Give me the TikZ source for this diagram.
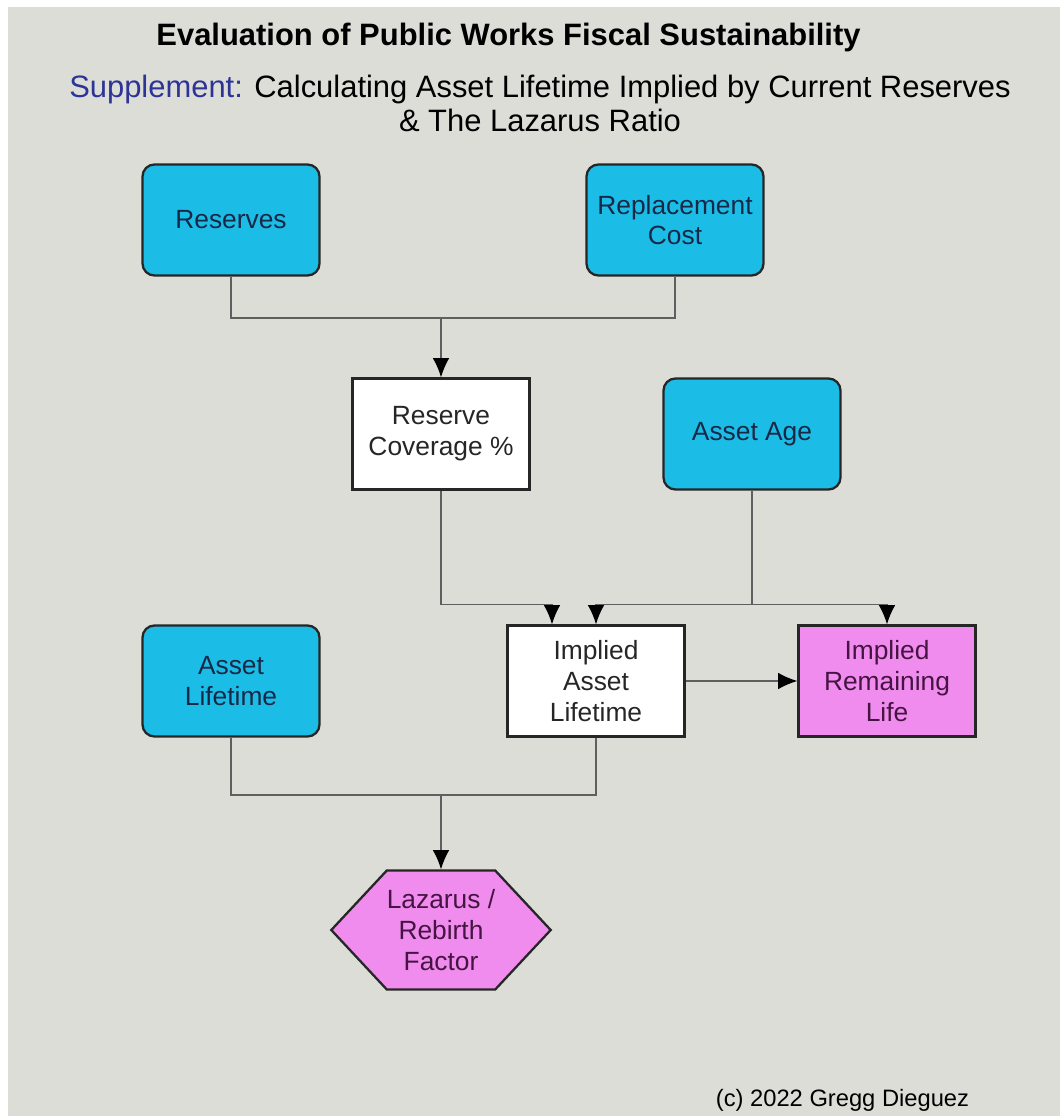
\documentclass[tikz,border=0pt]{standalone}
\usepackage{fontspec}
\setmainfont{Liberation Sans}
\usetikzlibrary{arrows.meta, shapes.symbols}
\definecolor{panel}{RGB}{221,221,216}
\definecolor{skyfill}{RGB}{27,189,231}
\definecolor{skytext}{RGB}{24,40,70}
\definecolor{orchid}{RGB}{240,140,238}
\definecolor{orchidtext}{RGB}{70,20,66}
\definecolor{suppblue}{RGB}{46,52,150}
\definecolor{wire}{RGB}{95,95,95}
\tikzset{>={Latex[length=11pt,width=9.5pt,color=black]}}
\tikzset{
  box/.style={draw=black!85, line width=1.3pt, minimum width=3.54cm, minimum height=2.22cm,
    align=center, font=\fontsize{15}{17.5}\selectfont, inner sep=2pt},
  cyanbox/.style={box, fill=skyfill, rounded corners=0.24cm, text=skytext},
  whitebox/.style={box, fill=white, text=black!85},
  pinkbox/.style={box, fill=orchid, text=orchidtext},
  hexbox/.style={draw=black!85, line width=1.3pt, fill=orchid, text=orchidtext, shape=signal,
    signal to=east and west, signal pointer angle=94, minimum width=4.38cm, minimum height=2.38cm,
    align=center, font=\fontsize{15}{17.5}\selectfont, inner sep=0pt},
  link/.style={wire, line width=0.8pt},
  flow/.style={link, ->}
}

\begin{document}
\begin{tikzpicture}
\useasboundingbox (0,0) rectangle (21.2,-22.32);
\fill[white] (0,0) rectangle (21.2,-22.32);
\fill[panel] (0.16,-0.14) rectangle (21.2,-22.32);

% headings
\node (title) at (10.17,-0.76) {\fontsize{17.6}{20}\selectfont\bfseries Evaluation of Public Works Fiscal Sustainability};
\node[align=center, font=\fontsize{17.6}{19.5}\selectfont] (sub) at (10.8,-2.07)
  {\textcolor{suppblue}{Supplement:} Calculating Asset Lifetime Implied by Current Reserves\\\& The Lazarus Ratio};

% boxes
\node[cyanbox] (res) at (4.62,-4.40) {Reserves};
\node[cyanbox] (rep) at (13.50,-4.40) {Replacement\\Cost};
\node[whitebox] (cov) at (8.82,-8.68) {Reserve\\Coverage \%};
\node[cyanbox] (age) at (15.04,-8.68) {Asset Age};
\node[cyanbox] (alt) at (4.62,-13.62) {Asset\\Lifetime};
\node[whitebox] (ila) at (11.92,-13.62) {Implied\\Asset\\Lifetime};
\node[pinkbox] (rem) at (17.74,-13.62) {Implied\\Remaining\\Life};
\node[hexbox] (laz) at (8.82,-18.60) {Lazarus /\\Rebirth\\Factor};

% connectors
\coordinate (j1) at (8.82,-6.36);
\draw[link] (res.south) |- (j1) -| (rep.south);
\draw[flow] (j1) -- (cov.north);

\draw[flow] (cov.south) -- ++(0,-2.28) -| ([xshift=-0.88cm]ila.north);
\draw[link] (age.south) -- ++(0,-2.28) coordinate (j2);
\draw[flow] (j2) -| (ila.north);
\draw[flow] (j2) -| (rem.north);
\draw[flow] (ila.east) -- (rem.west);

\coordinate (j3) at (8.82,-15.9);
\draw[link] (alt.south) |- (j3) -| (ila.south);
\draw[flow] (j3) -- (laz.north);

\node (copy) at (16.85,-22.0) {\fontsize{13.5}{16}\selectfont (c) 2022 Gregg Dieguez};
\end{tikzpicture}
\end{document}
